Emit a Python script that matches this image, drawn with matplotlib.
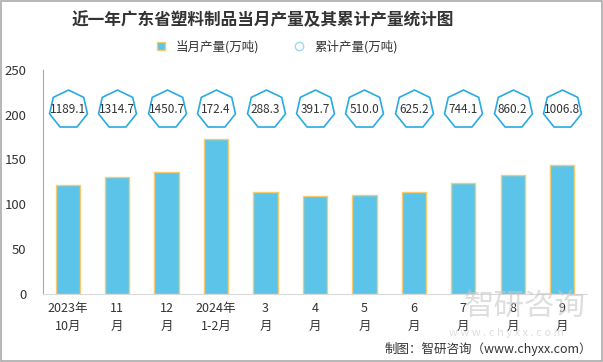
import numpy as np
import matplotlib.pyplot as plt
from matplotlib.lines import Line2D
from matplotlib.patches import Rectangle

plt.rcParams['font.family'] = ['Noto Sans CJK SC', 'DejaVu Sans']

months = ['2023年\n10月', '11\n月', '12\n月', '2024年\n1-2月', '3\n月', '4\n月',
          '5\n月', '6\n月', '7\n月', '8\n月', '9\n月']
monthly = [121.6, 130.6, 135.8, 172.7, 113.5, 109.0, 110.5, 113.5, 123.5, 132.5, 143.6]
cumulative = [1189.1, 1314.7, 1450.7, 172.4, 288.3, 391.7, 510.0, 625.2, 744.1, 860.2, 1006.8]
marker_level = 206  # where the cumulative badges sit on the y scale

bar_color = '#5BC4E8'
bar_edge = '#F5CB70'
hept_color = '#29ABE2'

fig = plt.figure(figsize=(6.03, 3.62), dpi=100)
ax = fig.add_axes([0.0713, 0.188, 0.902, 0.619])

x = np.arange(len(months))
ax.bar(x, monthly, width=0.49, color=bar_color, edgecolor=bar_edge, linewidth=1, zorder=2)

ax.plot(x, [marker_level] * len(x), linestyle='none', marker=(7, 0, 0), markersize=28,
        markerfacecolor='white', markeredgecolor=hept_color, markeredgewidth=1.2, zorder=3)
for xi, v in zip(x, cumulative):
    ax.text(xi, marker_level, f'{v:.1f}', ha='center', va='center', fontsize=8.5,
            color='#333333', zorder=4)

ax.set_xlim(-0.5, len(x) - 0.5)
ax.set_ylim(0, 250)
ax.set_yticks([0, 50, 100, 150, 200, 250])
ax.set_xticks(x)
ax.set_xticklabels(months, fontsize=9, color='#333333', linespacing=1.5)
ax.tick_params(axis='y', labelsize=9.5, colors='#333333', length=0, pad=12)
ax.tick_params(axis='x', length=0, pad=6)
for s in ['top', 'right']:
    ax.spines[s].set_visible(False)
ax.spines['left'].set_color('#AAAAAA')
ax.spines['bottom'].set_color('#D9D9D9')

fig.text(0.435, 0.945, '近一年广东省塑料制品当月产量及其累计产量统计图', ha='center', va='center',
         fontsize=12, fontweight='bold', color='#333333')

handles = [
    Line2D([], [], linestyle='none', marker='s', markersize=6, markerfacecolor=bar_color,
           markeredgecolor=bar_edge, label='当月产量(万吨)'),
    Line2D([], [], linestyle='none', marker='o', markersize=6, markerfacecolor='white',
           markeredgecolor='#9FD9F0', label='累计产量(万吨)'),
]
fig.legend(handles=handles, loc='center', bbox_to_anchor=(0.453, 0.87), ncol=2, frameon=False,
           fontsize=9, handletextpad=0.2, columnspacing=2.2, labelcolor='#333333')

# watermark
fig.text(0.87, 0.155, '智研咨询', ha='center', va='center', fontsize=22, color='#C8C8C8',
         alpha=0.6, zorder=0)
fig.text(0.84, 0.08, 'w w w . c h y x x . c o m', ha='center', va='center', fontsize=8,
         color='#C8C8C8', alpha=0.6)

fig.text(0.982, 0.035, '制图：智研咨询（www.chyxx.com）', ha='right', va='center',
         fontsize=9, color='#333333')

fig.patches.append(Rectangle((0.002, 0.004), 0.996, 0.992, transform=fig.transFigure,
                             fill=False, edgecolor='#AAAAAA', linewidth=1.2))

fig.savefig('out.png', dpi=100)
